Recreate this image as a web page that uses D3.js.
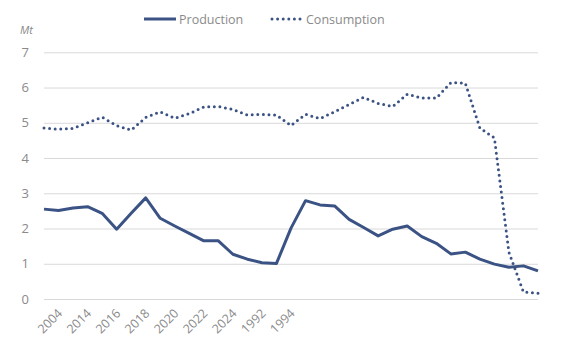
<!DOCTYPE html>
<html>
<head>
<meta charset="utf-8">
<script src="https://cdn.jsdelivr.net/npm/d3@7"></script>
<style>
  body { margin: 0; background: #fff; }
  svg { display: block; font-family: 'Open Sans', sans-serif; }
</style>
</head>
<body>
<svg width="564" height="351"></svg>
<script>
// categories: only every other one carries a label, the rest are blank
const categories = [
  '', '2004', '', '2014', '', '2016', '', '2018', '', '2020', '', '2022', '',
  '2024', '', '1992', '', '1994', '', '', '', '', '', '', '', '', '', '', '',
  '', '', '', '', '', ''
];
const production = [
  2.55, 2.51, 2.58, 2.62, 2.43, 1.98, 2.43, 2.87, 2.29, 2.07, 1.86, 1.65,
  1.65, 1.27, 1.13, 1.03, 1.01, 2.01, 2.79, 2.67, 2.64, 2.26, 2.03, 1.79,
  1.98, 2.07, 1.77, 1.58, 1.28, 1.33, 1.13, 0.99, 0.90, 0.94, 0.80
];
const consumption = [
  4.85, 4.82, 4.84, 5.00, 5.16, 4.92, 4.79, 5.15, 5.31, 5.13, 5.26, 5.45,
  5.46, 5.38, 5.22, 5.24, 5.22, 4.92, 5.24, 5.12, 5.31, 5.52, 5.72, 5.55,
  5.46, 5.81, 5.70, 5.70, 6.14, 6.12, 4.85, 4.57, 1.32, 0.20, 0.16
];
const yTicks = [0, 1, 2, 3, 4, 5, 6, 7];

const SVG = d3.select('svg');
const LEFT = 44;
const RIGHT = 538;
const TOP = 52.3;
const BOTTOM = 299;
const COLOR = '#3b5384';
const GREY = '#8a8a8a';

const X_SCALE = d3.scalePoint()
  .domain(d3.range(categories.length))
  .range([LEFT, RIGHT]);
const Y_SCALE = d3.scaleLinear()
  .domain([0, 7])
  .range([BOTTOM, TOP]);

// gridlines + y labels
const Y_AXIS = d3.axisLeft(Y_SCALE)
  .tickValues(yTicks)
  .tickFormat(d3.format('d'))
  .tickSize(-(RIGHT - LEFT))
  .tickPadding(15);
const Y_AXIS_G = SVG.append('g')
  .attr('transform', `translate(${LEFT},0)`)
  .call(Y_AXIS);
Y_AXIS_G.select('.domain').remove();
Y_AXIS_G.selectAll('line').style('stroke', '#d9d9d9');
Y_AXIS_G.selectAll('text')
  .style('font-size', '13px')
  .style('fill', GREY)
  .style('font-family', 'Open Sans');

// x labels
const X_AXIS = d3.axisBottom(X_SCALE)
  .tickSize(0)
  .tickFormat(i => categories[i]);
const X_AXIS_G = SVG.append('g')
  .attr('transform', `translate(0,${BOTTOM})`)
  .call(X_AXIS);
X_AXIS_G.select('.domain').remove();
X_AXIS_G.selectAll('text')
  .attr('transform', 'translate(1,12) rotate(-45)')
  .attr('dy', '0.35em')
  .attr('y', 0)
  .style('text-anchor', 'end')
  .style('font-size', '12.5px')
  .style('fill', GREY)
  .style('font-family', 'Open Sans');

// unit label
SVG.append('text')
  .attr('x', 20)
  .attr('y', 34)
  .text('Mt')
  .style('font-size', '11px')
  .style('font-style', 'italic')
  .style('fill', GREY);

const LINE = d3.line()
  .x((d, i) => X_SCALE(i))
  .y(d => Y_SCALE(d));

SVG.append('path')
  .datum(production)
  .attr('d', LINE)
  .style('fill', 'none')
  .style('stroke', COLOR)
  .style('stroke-width', 3)
  .style('stroke-linejoin', 'round');

SVG.append('path')
  .datum(consumption)
  .attr('d', LINE)
  .style('fill', 'none')
  .style('stroke', COLOR)
  .style('stroke-width', 3)
  .style('stroke-linecap', 'round')
  .style('stroke-dasharray', '0 5.6');

// legend
const LEGEND = SVG.append('g');
LEGEND.append('line')
  .attr('x1', 144).attr('x2', 176)
  .attr('y1', 19).attr('y2', 19)
  .style('stroke', COLOR)
  .style('stroke-width', 3);
LEGEND.append('text')
  .attr('x', 179).attr('y', 24)
  .text('Production')
  .style('font-size', '12.5px')
  .style('fill', GREY);
LEGEND.append('line')
  .attr('x1', 272).attr('x2', 300)
  .attr('y1', 19).attr('y2', 19)
  .style('stroke', COLOR)
  .style('stroke-width', 3)
  .style('stroke-linecap', 'round')
  .style('stroke-dasharray', '0 5.6');
LEGEND.append('text')
  .attr('x', 306).attr('y', 24)
  .text('Consumption')
  .style('font-size', '12.5px')
  .style('fill', GREY);
</script>
</body>
</html>
